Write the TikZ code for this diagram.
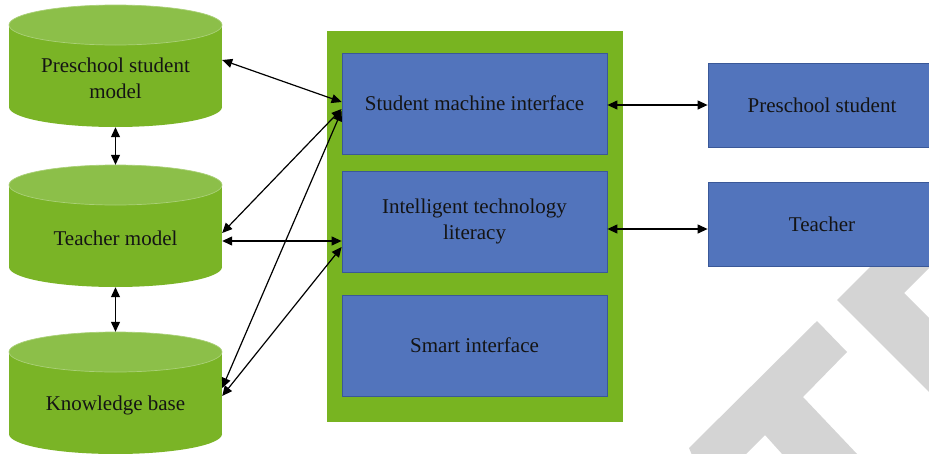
\documentclass[tikz,border=0pt]{standalone}
\usepackage{fontspec}
\setmainfont{Liberation Serif}
\usetikzlibrary{arrows.meta,calc}

\definecolor{cylgreen}{RGB}{122,180,38}
\definecolor{cyltop}{RGB}{140,191,73}
\definecolor{cylrim}{RGB}{170,208,120}
\definecolor{panelgreen}{RGB}{120,180,33}
\definecolor{boxblue}{RGB}{82,116,188}
\definecolor{boxedge}{RGB}{58,88,152}
\definecolor{markgray}{RGB}{212,212,212}
\definecolor{ink}{RGB}{20,20,20}

% cylinder: centre x, x radius, top y, bottom y
\newcommand\drawcyl[4]{%
  \fill[cylgreen] ({#1-#2},{#3+20}) rectangle ({#1+#2},{#4-20});
  \fill[cylgreen] (#1,{#4-20}) ellipse[x radius=#2, y radius=20];
  \fill[cyltop, draw=cylrim, line width=0.7] (#1,{#3+20}) ellipse[x radius=#2, y radius=20];
}

\begin{document}
\begin{tikzpicture}[x=1pt,y=-1pt,
  lbl/.style={font=\fontsize{21}{26}\selectfont, text=ink, align=center, inner sep=0},
  cylbox/.style={minimum width=213pt, minimum height=122pt, inner sep=0, draw=none},
  bluebox/.style={fill=boxblue, draw=boxedge, line width=0.8pt, inner sep=0,
    font=\fontsize{21}{26}\selectfont, text=ink, align=center},
  link/.style={line width=1.2pt, draw=black, {Triangle[length=10pt,width=9pt]}-{Triangle[length=10pt,width=9pt]}}]

\clip (0,0) rectangle (929,453);
\fill[white] (0,0) rectangle (929,453);

% grey mark in the lower right corner
\fill[markgray] (689,448) -- (817,321) -- (847,352) -- (803,397) -- (858,455)
  -- (783,455) -- (765,435) -- (745,455) -- (692,455) -- cycle;
\fill[markgray] (887,250) -- (837,300) -- (931,394) -- (931,320) -- (904,293)
  -- (931,266) -- (931,250) -- cycle;

% database cylinders
\drawcyl{115.5}{106.5}{5}{127}
\drawcyl{115.5}{106.5}{165}{287}
\drawcyl{115.5}{106.5}{332}{454}
\node[cylbox] (psm) at (115.5,66) {};
\node[cylbox] (tm) at (115.5,226) {};
\node[cylbox] (kb) at (115.5,393) {};
\node[lbl] (psmtext) at (115.5,78) {Preschool student\\model};
\node[lbl] (tmtext) at (115.5,238) {Teacher model};
\node[lbl] (kbtext) at (115.5,405) {Knowledge base};

% central panel
\node[fill=panelgreen, minimum width=296pt, minimum height=391pt, inner sep=0] (panel) at (475,226.5) {};
\node[bluebox, minimum width=265pt, minimum height=101pt] (smi) at (474.5,103.5) {Student machine interface};
\node[bluebox, minimum width=265pt, minimum height=101pt] (itl) at (474.5,221.5) {Intelligent technology\\literacy};
\node[bluebox, minimum width=265pt, minimum height=101pt] (si) at (474.5,345.5) {Smart interface};

% users
\node[bluebox, minimum width=228pt, minimum height=84pt] (ps) at (822,105) {Preschool student};
\node[bluebox, minimum width=228pt, minimum height=84pt] (tch) at (822,224) {Teacher};

% connectors
\draw[link] (psm.south) -- (tm.north);
\draw[link] (tm.south) -- (kb.north);
\draw[link] ([yshift=6pt]psm.east) -- ([yshift=1.5pt]smi.west);
\draw[link] ([yshift=-7pt]tm.east) -- ([yshift=-5.5pt]smi.west);
\draw[link] ([yshift=-15pt]tm.east) -- ([yshift=-19.5pt]itl.west);
\draw[link] ([yshift=5pt]kb.east) -- ([yshift=-7.5pt]smi.west);
\draw[link] ([yshift=-3pt]kb.east) -- ([yshift=-25.5pt]itl.west);
\draw[link] ([yshift=-1.5pt]smi.east) -- (ps.west);
\draw[link] ([yshift=-7.5pt]itl.east) -- ([yshift=-5pt]tch.west);
\end{tikzpicture}
\end{document}
